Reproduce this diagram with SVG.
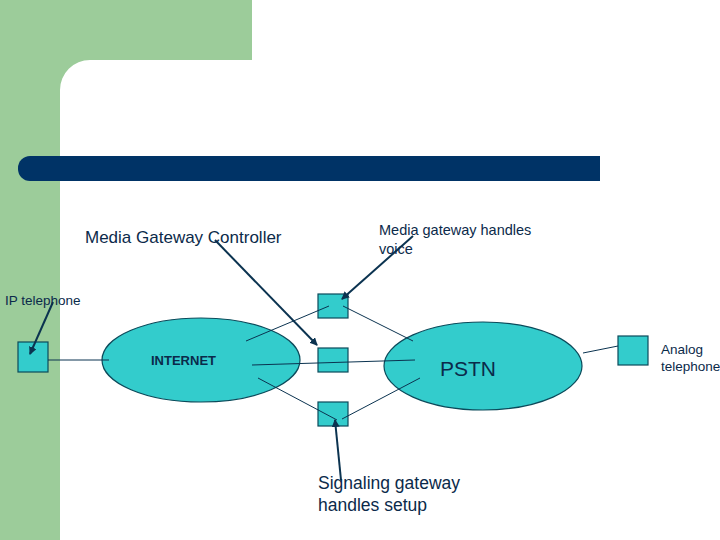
<svg xmlns="http://www.w3.org/2000/svg" width="720" height="540" viewBox="0 0 720 540">
<defs><marker id="ah" markerWidth="8" markerHeight="8" refX="7" refY="4" orient="auto" markerUnits="userSpaceOnUse"><path d="M0,0L8,4L0,8z" fill="#0b3350"/></marker>
<style>.b{fill:#33cccc;stroke:#0b4a5a;stroke-width:1.2}.l{stroke:#0b3350;stroke-width:1;fill:none}.a{stroke:#0b3350;stroke-width:2;fill:none;marker-end:url(#ah)}text{font-family:"Liberation Sans",Arial,sans-serif;fill:#0b2a4a}</style></defs>
<rect width="720" height="540" fill="#fff"/>
<rect x="0" y="0" width="252" height="60" fill="#9ccc9a"/>
<rect x="0" y="0" width="60" height="540" fill="#9ccc9a"/>
<path d="M60,60H90A30,30 0 0 0 60,90Z" fill="#9ccc9a"/>
<rect x="18" y="156" width="582" height="25" rx="12" fill="#003366"/>
<rect x="588" y="156" width="12" height="25" fill="#003366"/>
<g id="internet"><ellipse class="b" cx="201" cy="360" rx="99" ry="42"/><text x="151" y="365" font-size="13" font-weight="bold">INTERNET</text></g>
<g id="pstn"><ellipse class="b" cx="483" cy="366" rx="99" ry="44"/><text x="440" y="376" font-size="21">PSTN</text></g>
<g id="mg1"><rect class="b" x="318" y="294" width="30" height="24"/></g>
<g id="mg2"><rect class="b" x="318" y="348" width="30" height="24"/></g>
<g id="sg"><rect class="b" x="318" y="402" width="30" height="24"/></g>
<g id="ip"><rect class="b" x="18" y="342" width="30" height="30"/></g>
<g id="analog"><rect class="b" x="618" y="336" width="30" height="29"/></g>
<g id="connectors">
<path class="l" d="M246,341L329,306M343,306L413,341M252,365L415,360M258,378L337,420M342,419L420,378M48,360H109M583,353L618,346"/>
<path class="a" d="M215,240L317,345"/>
<path class="a" d="M413,236L342,299"/>
<path class="a" d="M341,480L335,420"/>
<path class="a" d="M53,302L30,354"/>
</g>
<g id="labels">
<text x="85" y="243" font-size="17">Media Gateway Controller</text>
<text x="379" y="235" font-size="14.5">Media gateway handles</text>
<text x="379" y="254" font-size="14.5">voice</text>
<text x="5" y="305" font-size="13.5">IP telephone</text>
<text x="661" y="354" font-size="13.5">Analog</text>
<text x="661" y="371" font-size="13.5">telephone</text>
<text x="318" y="489" font-size="17.5">Signaling gateway</text>
<text x="318" y="511" font-size="17.5">handles setup</text>
</g>
</svg>
